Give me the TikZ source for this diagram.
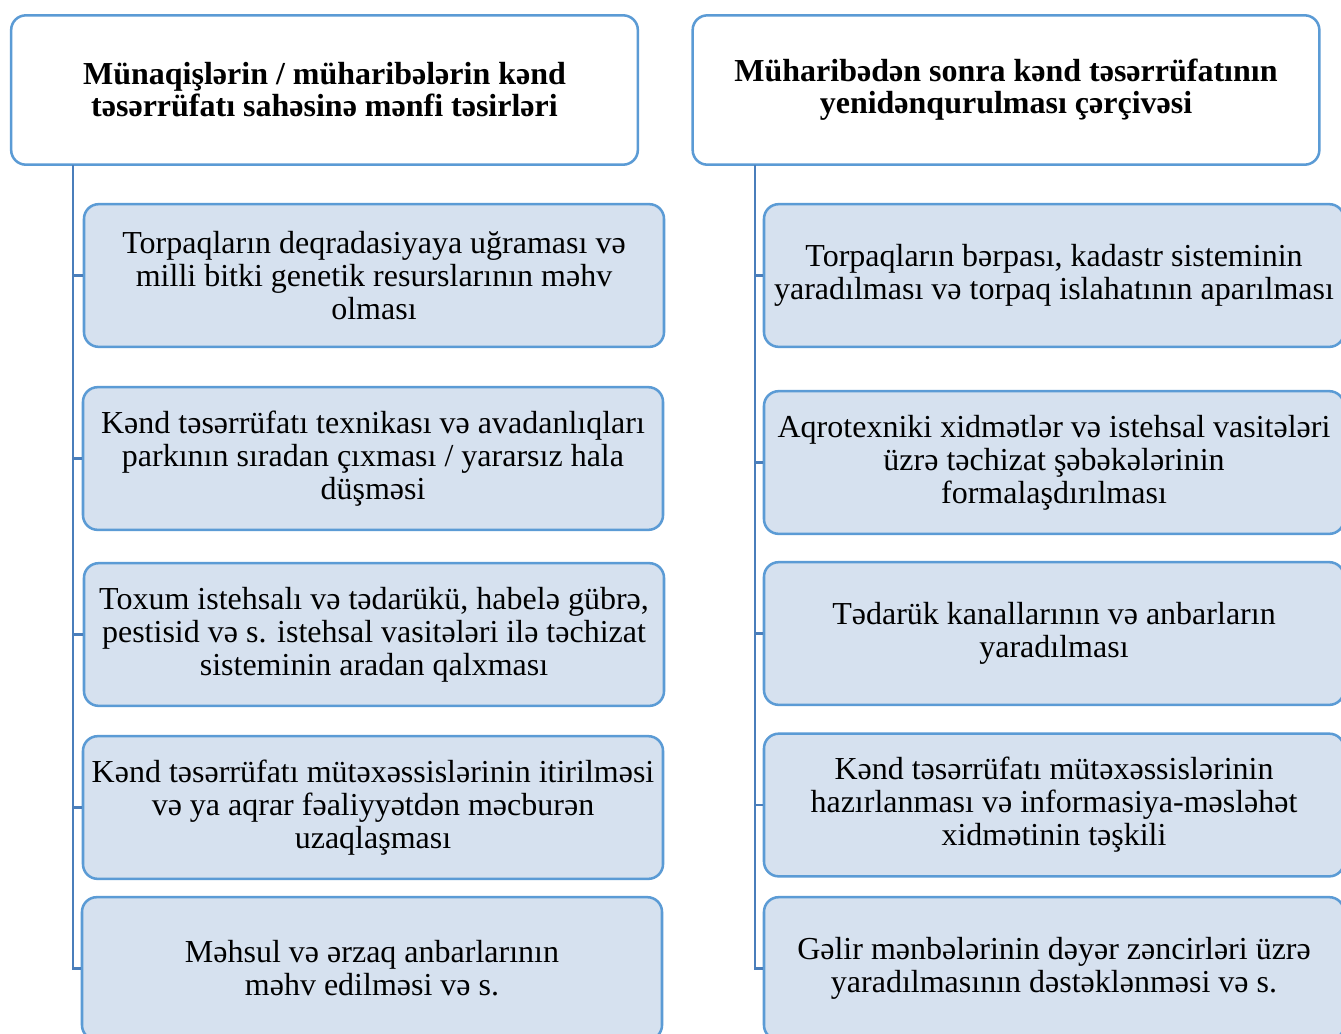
\documentclass[tikz,border=0pt]{standalone}
\usepackage{fontspec}
\setmainfont{Liberation Serif}
\usetikzlibrary{positioning}

\definecolor{boxline}{HTML}{5B9BD5}
\definecolor{boxfill}{HTML}{D6E1EF}
\definecolor{linkline}{HTML}{4A7EBB}

\tikzset{
    headbox/.style={draw=boxline,line width=1.9pt,fill=white,rounded corners=11pt,
        minimum width=470pt,minimum height=112pt,align=center,inner sep=0pt,
        font=\fontsize{24}{24}\selectfont\bfseries},
    itembox/.style={draw=boxline,line width=1.9pt,fill=boxfill,rounded corners=11pt,
        minimum width=435pt,minimum height=107pt,align=center,inner sep=0pt,
        font=\fontsize{24}{24.75}\selectfont},
    link/.style={draw=linkline,line width=1.9pt}
}

\begin{document}
\begin{tikzpicture}[x=0.75pt,y=-0.75pt]
    \clip (0,0) rectangle (1341,1033);
    \fill[white] (0,0) rectangle (1341,1033);

    % headers
    \node[headbox] (hdrL) at (324.5,90) {Münaqişlərin / müharibələrin kənd\\təsərrüfatı sahəsinə mənfi təsirləri};
    \node[headbox] (hdrR) at (1006,90) {Müharibədən sonra kənd təsərrüfatının\\yenidənqurulması çərçivəsi};

    \coordinate (spineL) at (73,165);
    \coordinate (spineR) at (755,165);

    % left column
    \node[itembox] (l1) at (374,275.5) {Torpaqların deqradasiyaya uğraması və\\milli bitki genetik resurslarının məhv\\olması};
    \node[itembox] (l2) at (373,458.5) {Kənd təsərrüfatı texnikası və avadanlıqları\\parkının sıradan çıxması / yararsız hala\\düşməsi};
    \node[itembox] (l3) at (374,634.5) {Toxum istehsalı və tədarükü, habelə gübrə,\\pestisid və s. istehsal vasitələri ilə təchizat\\sisteminin aradan qalxması};
    \node[itembox] (l4) at (373,807.5) {Kənd təsərrüfatı mütəxəssislərinin itirilməsi\\və ya aqrar fəaliyyətdən məcburən\\uzaqlaşması};
    \node[itembox] (l5) at (372,968.5) {Məhsul və ərzaq anbarlarının\\məhv edilməsi və s.};

    % right column
    \node[itembox] (r1) at (1054,275.5) {Torpaqların bərpası, kadastr sisteminin\\yaradılması və torpaq islahatının aparılması};
    \node[itembox] (r2) at (1054,462.5) {Aqrotexniki xidmətlər və istehsal vasitələri\\üzrə təchizat şəbəkələrinin\\formalaşdırılması};
    \node[itembox] (r3) at (1054,633.5) {Tədarük kanallarının və anbarların\\yaradılması};
    \node[itembox] (r4) at (1054,805) {Kənd təsərrüfatı mütəxəssislərinin\\hazırlanması və informasiya-məsləhət\\xidmətinin təşkili};
    \node[itembox] (r5) at (1054,968.5) {Gəlir mənbələrinin dəyər zəncirləri üzrə\\yaradılmasının dəstəklənməsi və s.};

    \foreach \i in {1,...,5} {
        \draw[link] (spineL) |- (l\i.west);
        \draw[link] (spineR) |- (r\i.west);
    }
\end{tikzpicture}
\end{document}
